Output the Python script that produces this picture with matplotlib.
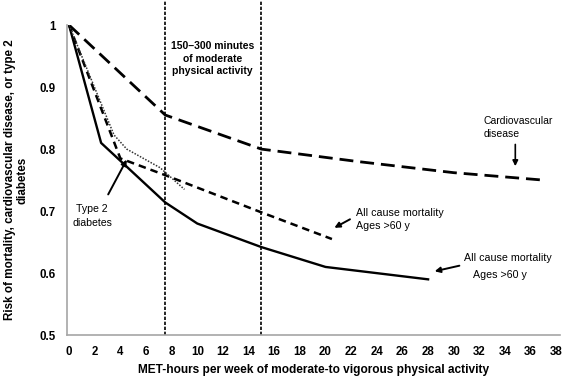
import matplotlib
matplotlib.use("Agg")
import matplotlib.pyplot as plt

plt.rcParams['font.family'] = ['Liberation Sans Narrow', 'DejaVu Sans Condensed',
                               'Liberation Sans', 'DejaVu Sans']

# MET-hours per week vs relative risk
cvd_x = [0, 7.5, 15, 22.5, 30, 37]
cvd_y = [1.0, 0.855, 0.80, 0.78, 0.762, 0.75]

all_x = [0, 2.5, 5, 7.5, 10, 15, 20, 28]
all_y = [1.0, 0.81, 0.762, 0.714, 0.68, 0.642, 0.61, 0.59]

old_x = [0, 4, 7.5, 15, 20.5]
old_y = [1.0, 0.785, 0.758, 0.698, 0.655]

t2d_x = [0, 3.5, 4.5, 7.1, 9.0]
t2d_y = [1.0, 0.823, 0.80, 0.77, 0.735]

guideline_x = [7.5, 15]

x_ticks = list(range(0, 39, 2))
y_ticks = [0.5, 0.6, 0.7, 0.8, 0.9, 1.0]
y_labels = ["0.5", "0.6", "0.7", "0.8", "0.9", "1"]

fig = plt.figure(figsize=(5.63, 3.80), dpi=100)
ax = fig.add_axes([0.119, 0.118, 0.876, 0.816])

ax.plot(cvd_x, cvd_y, color='black', lw=2.0, dashes=(5, 2.5))
ax.plot(all_x, all_y, color='black', lw=1.7)
ax.plot(old_x, old_y, color='black', lw=1.8, dashes=(3, 2))
ax.plot(t2d_x, t2d_y, color='#333333', lw=1.1, linestyle=(0, (1, 1)))

for gx in guideline_x:
    ax.plot([gx, gx], [0.5, 1.05], color='black', lw=1.2,
            dashes=(2, 1), clip_on=False)

ax.set_xlim(-0.16, 38.3)
ax.set_ylim(0.5, 1.0)
ax.set_xticks(x_ticks)
ax.set_yticks(y_ticks)
ax.set_yticklabels(y_labels)
ax.tick_params(length=0, labelsize=8.3, pad=8)
for lab in ax.get_xticklabels() + ax.get_yticklabels():
    lab.set_fontweight('bold')

for side in ['top', 'right']:
    ax.spines[side].set_visible(False)
for side in ['left', 'bottom']:
    ax.spines[side].set_color('#a6a6a6')
    ax.spines[side].set_linewidth(1.2)

ax.set_xlabel("MET-hours per week of moderate-to vigorous physical activity",
              fontsize=8.6, fontweight='bold', labelpad=4)
ax.set_ylabel("Risk of mortality, cardiovascular disease, or type 2\ndiabetes",
              fontsize=8.4, fontweight='bold', labelpad=8, linespacing=1.05)

ax.text(11.2, 0.946, "150\u2013300 minutes\nof moderate\nphysical activity",
        ha='center', va='center', fontsize=7.5, fontweight='bold',
        linespacing=1.35)

ax.text(32.3, 0.835, "Cardiovascular\ndisease", ha='left', va='center',
        fontsize=7.5, linespacing=1.4)
ax.annotate("", xy=(34.8, 0.768), xytext=(34.8, 0.812),
            arrowprops=dict(arrowstyle='-|>', color='black', lw=1.2,
                            mutation_scale=8))

ax.text(1.8, 0.692, "Type 2\ndiabetes", ha='center', va='center',
        fontsize=7.6, linespacing=1.5)
ax.annotate("", xy=(4.6, 0.787), xytext=(2.95, 0.723),
            arrowprops=dict(arrowstyle='-|>', color='black', lw=1.4,
                            mutation_scale=8))

ax.text(22.4, 0.687, "All cause mortality\nAges >60 y", ha='left',
        va='center', fontsize=7.7, linespacing=1.4)
ax.annotate("", xy=(20.5, 0.671), xytext=(22.1, 0.689),
            arrowprops=dict(arrowstyle='-|>', color='black', lw=1.4,
                            mutation_scale=8))

ax.text(30.8, 0.625, "All cause mortality", ha='left', va='center',
        fontsize=7.7)
ax.text(31.5, 0.597, "Ages >60 y", ha='left', va='center', fontsize=7.7)
ax.annotate("", xy=(28.3, 0.602), xytext=(30.65, 0.613),
            arrowprops=dict(arrowstyle='-|>', color='black', lw=1.4,
                            mutation_scale=8))

fig.savefig("out.png", dpi=100)
